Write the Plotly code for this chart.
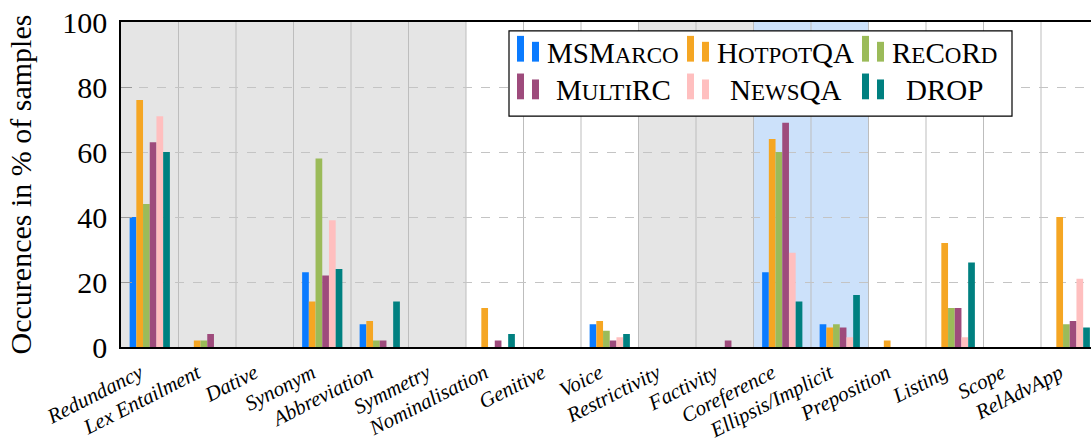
import plotly.graph_objects as go

# Linguistic phenomena (x categories)
categories = ["Redundancy", "Lex Entailment", "Dative", "Synonym", "Abbreviation",
              "Symmetry", "Nominalisation", "Genitive", "Voice", "Restrictivity",
              "Factivity", "Coreference", "Ellipsis/Implicit", "Preposition",
              "Listing", "Scope", "RelAdvApp"]

# Occurrences in % of samples per dataset
msmarco  = [40, 0, 0, 23, 7, 0, 0, 0, 7, 0, 0, 23, 7, 0, 0, 0, 0]
hotpotqa = [76, 2, 0, 14, 8, 0, 12, 0, 8, 0, 0, 64, 6, 2, 32, 0, 40]
record   = [44, 2, 0, 58, 2, 0, 0, 0, 5, 0, 0, 60, 7, 0, 12, 0, 7]
multirc  = [63, 4, 0, 22, 2, 0, 2, 0, 2, 0, 2, 69, 6, 0, 12, 0, 8]
newsqa   = [71, 0, 0, 39, 0, 0, 0, 0, 3, 0, 0, 29, 3, 0, 3, 0, 21]
drop     = [60, 0, 0, 24, 14, 0, 4, 0, 4, 0, 0, 14, 16, 0, 26, 0, 6]

y_ticks = [0, 20, 40, 60, 80, 100]

SERIF = "Liberation Serif"
CAP = 29
SC = 23


def sc(t):
    return f'<span style="font-size:{SC}px">{t}</span>'


# name label (rendered in small caps), colour, values
series = [
    ("MSM" + sc("ARCO"), "#0a7bff", msmarco),
    ("H" + sc("OTPOT") + "QA", "#f5a623", hotpotqa),
    ("R" + sc("E") + "C" + sc("O") + "R" + sc("D"), "#9bbb59", record),
    ("M" + sc("ULTI") + "RC", "#9e4b7c", multirc),
    ("N" + sc("EWS") + "QA", "#ffbfbf", newsqa),
    ("DROP", "#008080", drop),
]

fig = go.Figure()
for label, color, vals in series:
    fig.add_trace(go.Bar(
        x=categories, y=vals, marker_color=color,
        marker_line_width=0, showlegend=False,
    ))

# plot area in pixels
PL, PR, PT, PB = 121, 1091, 22, 350
W, H = 1091, 443
SPACING = 57.5
x_end = -0.5 + (PR - PL) / SPACING


def px(x):
    return (x - PL) / (PR - PL)


def py(y):
    return (PB - y) / (PB - PT)


shapes = []
# shaded category groups
for x0, x1, col in [(-0.5, 5.5, "#e5e5e5"), (8.5, 10.5, "#e5e5e5"), (10.5, 12.5, "#cce1fa")]:
    shapes.append(dict(type="rect", xref="x", yref="y", x0=x0, x1=x1, y0=0, y1=100,
                       fillcolor=col, line_width=0, layer="below"))
# separators between categories
for k in range(1, len(categories)):
    shapes.append(dict(type="line", xref="x", yref="y", x0=k - 0.5, x1=k - 0.5, y0=0, y1=100,
                       line=dict(color="#bdbdbd", width=1), layer="below"))

# legend box
shapes.append(dict(type="rect", xref="paper", yref="paper",
                   x0=px(509), x1=px(1012), y0=py(117), y1=py(31),
                   fillcolor="white", line=dict(color="black", width=1.2), layer="above"))

annotations = []
col_sym = [517, 687, 862]
col_txt = [613, 785, 944]
row_bottom = [62, 100]
row_mid = [53, 91]
for i, (label, color, _) in enumerate(series):
    r, c = divmod(i, 3)
    s = col_sym[c]
    b = row_bottom[r]
    shapes.append(dict(type="rect", xref="paper", yref="paper",
                       x0=px(s), x1=px(s + 7), y0=py(b), y1=py(b - 26),
                       fillcolor=color, line_width=0, layer="above"))
    shapes.append(dict(type="rect", xref="paper", yref="paper",
                       x0=px(s + 15), x1=px(s + 22), y0=py(b), y1=py(b - 20),
                       fillcolor=color, line_width=0, layer="above"))
    annotations.append(dict(xref="paper", yref="paper", x=px(col_txt[c]), y=py(row_mid[r]),
                            text=label, showarrow=False, xanchor="center", yanchor="middle",
                            font=dict(family=SERIF, size=CAP, color="black")))

fig.update_layout(
    width=W, height=H,
    margin=dict(l=PL, r=W - PR, t=PT, b=H - PB),
    paper_bgcolor="white", plot_bgcolor="white",
    barmode="group", bargap=0.30, bargroupgap=0,
    shapes=shapes, annotations=annotations,
    font=dict(family=SERIF, color="black"),
)
fig.update_xaxes(
    range=[-0.5, x_end], showgrid=False, ticks="",
    showline=True, linecolor="black", linewidth=1.5, mirror=True,
    tickangle=-27, ticklabelshift=-10, ticklabelstandoff=4,
    tickfont=dict(family=SERIF, size=21, style="italic", color="black"),
)
fig.update_yaxes(
    range=[0, 100], tickvals=y_ticks,
    showgrid=True, gridcolor="#c4c4c4", griddash="dash", gridwidth=1,
    showline=True, linecolor="black", linewidth=1.5,
    ticks="inside", ticklen=11, tickcolor="#9a9a9a",
    ticklabelstandoff=6,
    tickfont=dict(family=SERIF, size=30, color="black"),
    zeroline=False,
    title=dict(text="Occurences in % of samples", font=dict(family=SERIF, size=30, color="black"),
               standoff=22),
)

fig.write_html("out.html")
